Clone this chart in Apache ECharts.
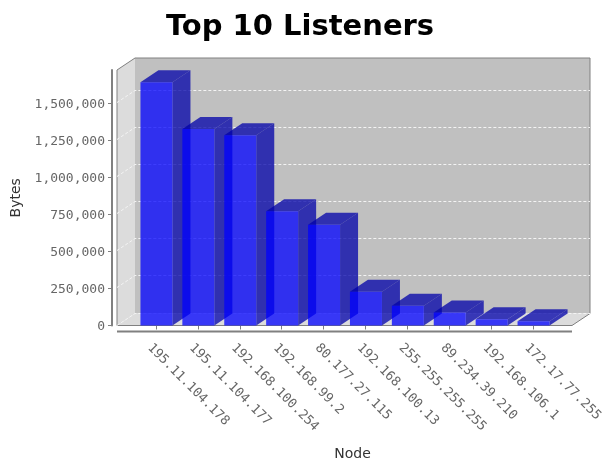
<!DOCTYPE html>
<html><head><meta charset="utf-8">
<style>html,body{margin:0;padding:0;background:#fff}#c{width:611px;height:467px}</style>
<script src="https://cdn.jsdelivr.net/npm/echarts@6/dist/echarts.min.js"></script>
</head><body><div id="c"></div>
<script>
const categories = ['195.11.104.178','195.11.104.177','192.168.100.254','192.168.99.2','80.177.27.115','192.168.100.13','255.255.255.255','89.234.39.210','192.168.106.1','172.17.77.255'];
const bytes = [1643000,1327000,1285000,772000,680000,228000,134000,87000,42000,28000];
const yTicks = [0,250000,500000,750000,1000000,1250000,1500000];
const yMax = 1726000;
const DX = 18, DY = 12;
const GL = 135, GW = 419, GT = 70, GB = 325.5, WALL_L = 117, WALL_R = 572;
const chart = echarts.init(document.getElementById('c'), null, {renderer:'canvas'});
const grey = '#808080';
function wallsItem(params, api){
  const y = api.coord([0, api.value(0)])[1];
  const kids = [];
  if (params.dataIndex === 0){
    kids.push(
      {type:'polygon',shape:{points:[[WALL_L+DX,GT-DY],[WALL_R+DX,GT-DY],[WALL_R+DX,GB-DY],[WALL_L+DX,GB-DY]]},style:{fill:'#c0c0c0'}},
      {type:'polygon',shape:{points:[[WALL_L,GT],[WALL_L+DX,GT-DY],[WALL_L+DX,GB-DY],[WALL_L,GB]]},style:{fill:'#dcdcdc'}},
      {type:'polygon',shape:{points:[[WALL_L,GB],[WALL_L+DX,GB-DY],[WALL_R+DX,GB-DY],[WALL_R,GB]]},style:{fill:'#dcdcdc'}},
      {type:'polyline',shape:{points:[[WALL_L,GB],[WALL_L,GT],[WALL_L+DX,GT-DY],[WALL_R+DX,GT-DY],[WALL_R+DX,GB-DY],[WALL_R,GB],[WALL_L,GB]]},style:{fill:null,stroke:grey,lineWidth:1}}
    );
  }
  const line = {stroke:'#f4f4f4',lineWidth:1,lineDash:[3,2]};
  const py = Math.round(y)-0.5;
  kids.push({type:'polyline',shape:{points:[[WALL_L,py],[WALL_L+DX,py-DY],[WALL_R+DX,py-DY]]},style:Object.assign({fill:null},line)});
  return {type:'group',children:kids};
}
function barItem(params, api){
  const top = api.coord([api.value(0), api.value(1)]);
  const base = api.coord([api.value(0), 0]);
  const w = api.size([1,0])[0]*0.764;
  const l = top[0]-w/2+0.5, r = l+w;
  const front = 'rgba(0,0,255,0.75)', dark = 'rgba(0,0,170,0.75)';
  return {type:'group',children:[
    {type:'polygon',shape:{points:[[r,top[1]],[r+DX,top[1]-DY],[r+DX,base[1]-DY],[r,base[1]]]},style:{fill:dark}},
    {type:'polygon',shape:{points:[[l,top[1]],[l+DX,top[1]-DY],[r+DX,top[1]-DY],[r,top[1]]]},style:{fill:dark}},
    {type:'rect',shape:{x:l,y:top[1],width:w,height:base[1]-top[1]},style:{fill:front}}
  ]};
}
const labelFont = {fontFamily:'DejaVu Sans Mono',fontSize:13,color:'#666'};
chart.setOption({
  animation:false,
  backgroundColor:'#fff',
  title:{text:'Top 10 Listeners',left:295,top:8,textAlign:'center',textStyle:{fontFamily:'DejaVu Sans',fontWeight:'bold',fontSize:29,color:'#000'}},
  grid:{left:GL,width:GW,top:GT,height:GB-GT,containLabel:false},
  xAxis:{type:'category',data:categories,offset:6,
    name:'Node',nameLocation:'middle',nameGap:116,
    nameTextStyle:{fontFamily:'DejaVu Sans',fontSize:14,color:'#333',padding:[0,0,0,16]},
    axisLine:{show:false},
    axisTick:{show:true,alignWithLabel:true,length:4,lineStyle:{color:grey}},
    axisLabel:Object.assign({rotate:-45,interval:0,margin:8,verticalAlign:'top',lineHeight:18},labelFont)},
  yAxis:{type:'value',min:0,max:yMax,interval:250000,offset:23,
    name:'Bytes',nameLocation:'middle',nameGap:88,
    nameTextStyle:{fontFamily:'DejaVu Sans',fontSize:14,color:'#333'},
    axisLine:{show:true,lineStyle:{color:grey,width:2}},
    axisTick:{show:true,length:4,lineStyle:{color:grey},customValues:yTicks},
    axisLabel:Object.assign({margin:7,verticalAlign:'top',lineHeight:3,customValues:yTicks,formatter:v=>Number(v).toLocaleString('en-US')},labelFont),
    splitLine:{show:false}},
  graphic:[{type:'line',shape:{x1:WALL_L,y1:GB+6,x2:WALL_R,y2:GB+6},style:{stroke:grey,lineWidth:2}}],
  series:[
    {type:'custom',name:'walls',coordinateSystem:'cartesian2d',clip:false,z:1,silent:true,
     data:yTicks.map(v=>[v]),encode:{y:0},renderItem:wallsItem},
    {type:'custom',name:'Bytes',coordinateSystem:'cartesian2d',clip:false,z:2,
     data:bytes.map((v,i)=>[i,v]),encode:{x:0,y:1},renderItem:barItem}
  ]
});
</script></body></html>
